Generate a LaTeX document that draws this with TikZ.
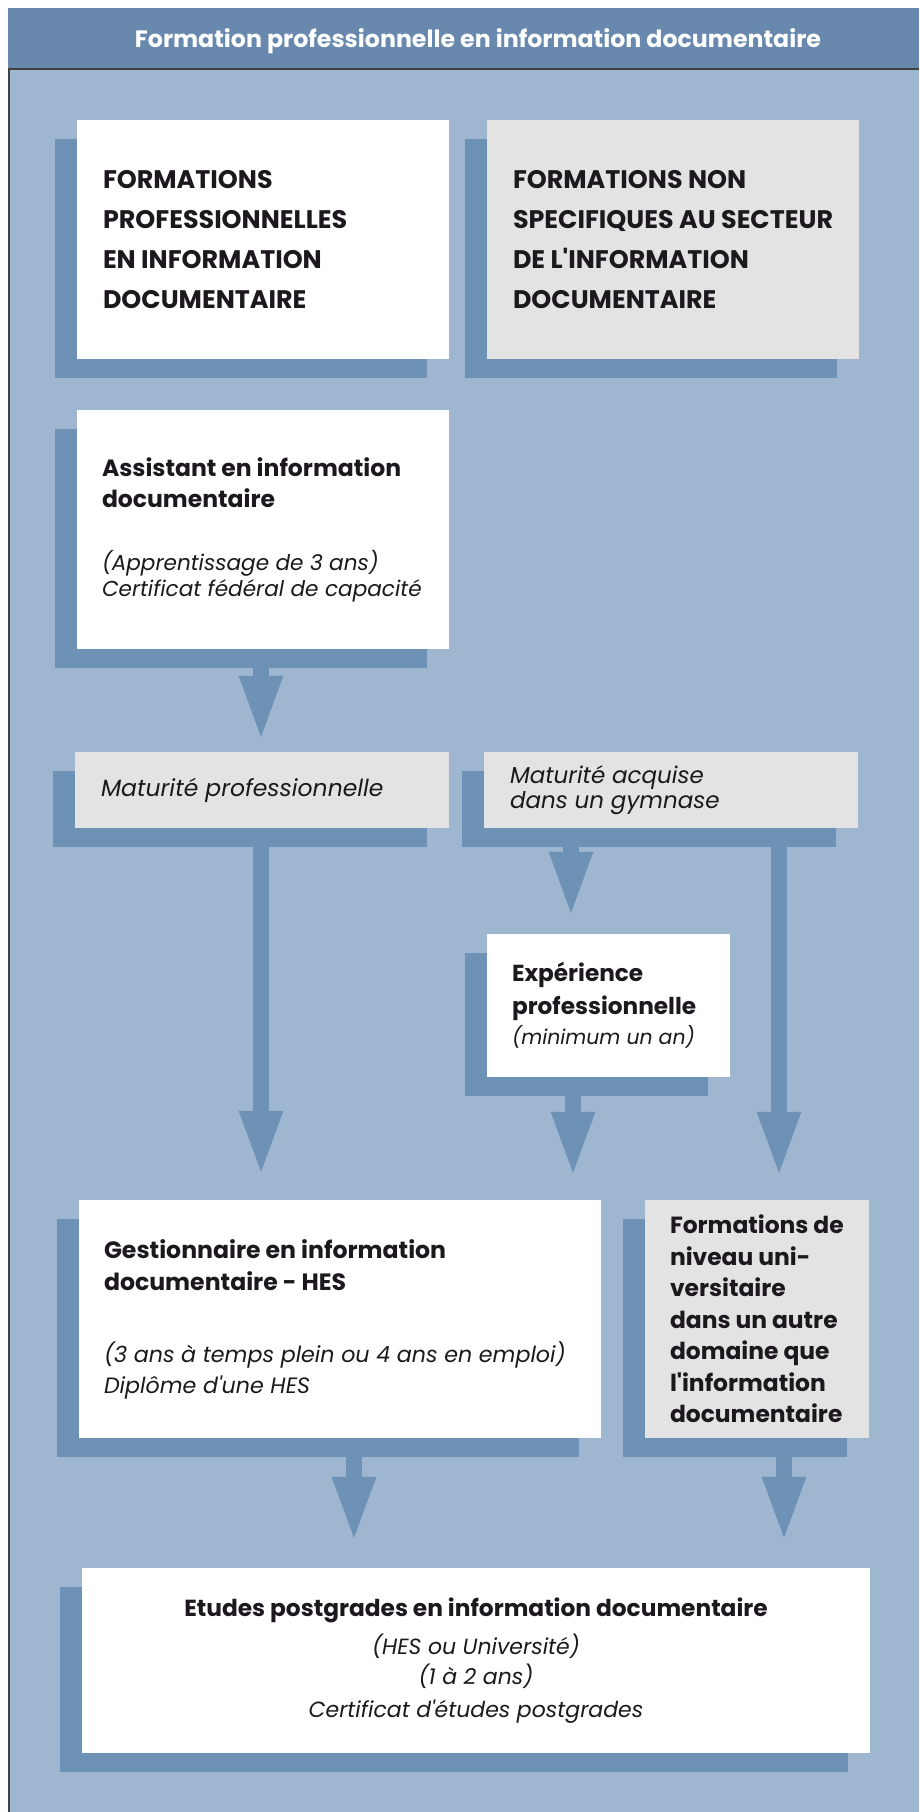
\documentclass[tikz,border=0pt]{standalone}
\usepackage{fontspec}
\setmainfont{Poppins}[Ligatures=TeXOff]
\usetikzlibrary{arrows.meta,shadows}
\definecolor{bgc}{RGB}{158,182,208}
\definecolor{titlec}{RGB}{104,136,174}
\definecolor{shadc}{RGB}{110,145,182}
\definecolor{grayb}{RGB}{227,227,227}
\definecolor{textc}{RGB}{28,24,30}
\tikzset{
  box/.style={draw=none, rectangle, inner sep=0pt,
    general shadow={fill=shadc, shadow xshift=-22pt, shadow yshift=-19pt}},
  wbox/.style={box, fill=white},
  gbox/.style={box, fill=grayb},
  txt/.style={anchor=west, align=left, inner sep=0pt, text=textc},
  arr/.style={draw=shadc, line width=16pt,
    -{Triangle[width=39pt,length=66pt]}}
}
\newcommand{\lt}{\mdseries\itshape}
\begin{document}
\begin{tikzpicture}[x=1pt,y=-1pt]
\useasboundingbox (0,0) rectangle (919,1812);
\fill[white] (0,0) rectangle (919,1812);
\fill[titlec] (8,8) rectangle (919,69);
\fill[bgc] (9,69) rectangle (919,1812);
\draw[line width=1.2pt, black!75] (919,69) -- (9,69) -- (9,1812);
\node[anchor=base, text=white, font=\fontsize{23.7}{28}\selectfont\bfseries] (title) at (478,47)
  {Formation professionnelle en information documentaire};

% boxes
\node[wbox, minimum width=372pt, minimum height=239pt] (b1) at (263,239.5) {};
\node[gbox, minimum width=372pt, minimum height=239pt] (b2) at (673,239.5) {};
\node[wbox, minimum width=372pt, minimum height=239pt] (b3) at (263,529.5) {};
\node[gbox, minimum width=374pt, minimum height=76pt] (m1) at (262,790) {};
\node[gbox, minimum width=374pt, minimum height=76pt] (m2) at (671,790) {};
\node[wbox, minimum width=243pt, minimum height=143pt] (exp) at (608.5,1005.5) {};
\node[wbox, minimum width=522pt, minimum height=238pt] (ges) at (340,1319) {};
\node[gbox, minimum width=224pt, minimum height=238pt] (fnu) at (757,1319) {};
\node[wbox, minimum width=788pt, minimum height=185pt] (etu) at (476,1660.5) {};

% texts
\node[txt, font=\fontsize{25.4}{40}\selectfont\bfseries] (t1) at ([xshift=26pt]b1.west)
  {FORMATIONS\\PROFESSIONNELLES\\EN INFORMATION\\DOCUMENTAIRE};
\node[txt, font=\fontsize{25.4}{40}\selectfont\bfseries] (t2) at ([xshift=26pt]b2.west)
  {FORMATIONS NON\\SPECIFIQUES AU SECTEUR\\DE L'INFORMATION\\DOCUMENTAIRE};
\node[txt, font=\fontsize{23.5}{31}\selectfont\bfseries] (t3) at ([xshift=25pt]b3.west)
  {Assistant en information\\documentaire\\[32pt]
   {\lt\fontsize{21.6}{26}\selectfont (Apprentissage de 3 ans)}\\[-5pt]
   {\lt\fontsize{21.6}{26}\selectfont Certificat fédéral de capacité}};
\node[txt, font=\fontsize{23.5}{25}\selectfont\lt] (tm1) at ([xshift=26pt]m1.west)
  {Maturité professionnelle};
\node[txt, font=\fontsize{23}{25}\selectfont\lt] (tm2) at ([xshift=26pt]m2.west)
  {Maturité acquise\\dans un gymnase};
\node[txt, font=\fontsize{23.2}{33}\selectfont\bfseries] (texp) at ([xshift=25pt]exp.west)
  {Expérience\\professionnelle\\[-3pt]
   {\lt\fontsize{20.4}{26}\selectfont (minimum un an)}};
\node[txt, font=\fontsize{23.6}{32}\selectfont\bfseries] (tges) at ([xshift=25pt]ges.west)
  {Gestionnaire en information\\documentaire - HES\\[40pt]
   {\lt\fontsize{22.2}{26}\selectfont (3 ans à temps plein ou 4 ans en emploi)}\\[-1pt]
   {\lt\fontsize{22.2}{26}\selectfont Diplôme d'une HES}};
\node[txt, font=\fontsize{23.4}{31.5}\selectfont\bfseries] (tfnu) at ([xshift=25pt]fnu.west)
  {Formations de\\niveau uni-\\versitaire\\dans un autre\\domaine que\\l'information\\documentaire};
\node[anchor=center, align=center, inner sep=0pt, text=textc,
  font=\fontsize{23.3}{33}\selectfont\bfseries] (tetu) at (etu.center)
  {Etudes postgrades en information documentaire\\[5pt]
   {\lt\fontsize{22}{26}\selectfont (HES ou Université)}\\[-3pt]
   {\lt\fontsize{22}{26}\selectfont (1 à 2 ans)}\\
   {\lt\fontsize{22}{26}\selectfont Certificat d'études postgrades}};

% arrow columns
\coordinate (c1) at (261,0);
\coordinate (c3) at (571,0);
\coordinate (c4) at (573,0);
\coordinate (c5) at (779,0);
\coordinate (c6) at (354,0);
\coordinate (c7) at (784,0);

\draw[arr, shorten >=10pt] (b3.south -| c1) -- (m1.north -| c1);
\draw[arr, shorten >=23pt] (m1.south -| c1) -- (ges.north -| c1);
\draw[arr, shorten >=16pt] (m2.south -| c3) -- (exp.north -| c3);
\draw[arr, shorten >=22pt] (exp.south -| c4) -- (ges.north -| c4);
\draw[arr, shorten >=22pt] (m2.south -| c5) -- (fnu.north -| c5);
\draw[arr, shorten >=25pt] (ges.south -| c6) -- (etu.north -| c6);
\draw[arr, shorten >=25pt] (fnu.south -| c7) -- (etu.north -| c7);
\end{tikzpicture}
\end{document}
